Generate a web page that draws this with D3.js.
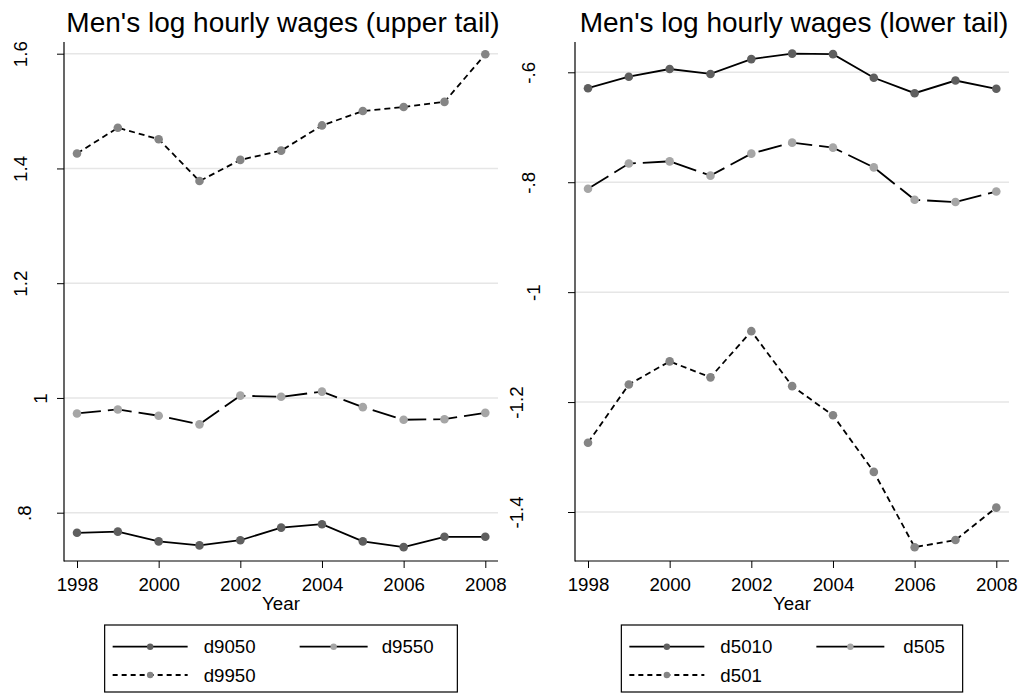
<!DOCTYPE html>
<html>
<head>
<meta charset="utf-8">
<script src="https://cdn.jsdelivr.net/npm/d3@7"></script>
<style>
  body { margin: 0; background: #fff; }
  svg { font-family: "Liberation Sans", Arial, Helvetica, sans-serif; }
</style>
</head>
<body>
<svg id="chart" width="1019" height="693"></svg>
<script>
// Data
let years = [1998, 1999, 2000, 2001, 2002, 2003, 2004, 2005, 2006, 2007, 2008];
let yearTicks = [1998, 2000, 2002, 2004, 2006, 2008];

let d9050 = [0.765, 0.767, 0.750, 0.743, 0.752, 0.774, 0.780, 0.750, 0.740, 0.758, 0.758];
let d9550 = [0.973, 0.980, 0.969, 0.954, 1.004, 1.002, 1.011, 0.984, 0.962, 0.963, 0.974];
let d9950 = [1.426, 1.471, 1.451, 1.378, 1.415, 1.431, 1.475, 1.500, 1.507, 1.516, 1.599];

let d5010 = [-0.629, -0.608, -0.594, -0.603, -0.576, -0.566, -0.567, -0.610, -0.638, -0.615, -0.630];
let d505 = [-0.812, -0.766, -0.762, -0.788, -0.748, -0.728, -0.737, -0.773, -0.832, -0.836, -0.817];
let d501 = [-1.274, -1.168, -1.126, -1.155, -1.071, -1.171, -1.224, -1.327, -1.464, -1.451, -1.392];

let upperTicks = [0.8, 1.0, 1.2, 1.4, 1.6];
let upperTickLabels = ['.8', '1', '1.2', '1.4', '1.6'];
let lowerTicks = [-1.4, -1.2, -1.0, -0.8, -0.6];
let lowerTickLabels = ['-1.4', '-1.2', '-1', '-.8', '-.6'];

// Styles
let darkGray = '#5f5f5f', midGray = '#858585', lightGray = '#a6a6a6';
let longDash = '24,7', shortDash = '6,4';
let labelOffset = { '1.6': 37, '1.4': 37, '1.2': 37, '1': 17, '.8': 33,
                    '-.6': 40, '-.8': 40, '-1': 35, '-1.2': 52, '-1.4': 52 };

let svg = d3.select('#chart');

function drawPanel(cfg) {
  let axisX = cfg.axisX;
  let plotRight = axisX + 434;
  let axisTop = 42, axisBottom = 561;

  let x = d3.scaleLinear().domain([1998, 2008]).range([axisX + 13, axisX + 421.3]);
  let y = d3.scaleLinear().domain(cfg.yDomain).range(cfg.yRange);

  let g = svg.append('g');

  // Title
  g.append('text')
    .attr('x', (axisX + plotRight) / 2 + 2)
    .attr('y', 32)
    .attr('text-anchor', 'middle')
    .style('font-size', '28px')
    .text(cfg.title);

  // Gridlines
  g.selectAll('.grid')
    .data(cfg.ticks)
    .enter()
    .append('line')
    .attr('x1', axisX).attr('x2', plotRight)
    .attr('y1', d => y(d)).attr('y2', d => y(d))
    .attr('stroke', '#e6e6e6')
    .attr('stroke-width', 1.5);

  // Y axis
  let yAxis = g.append('g')
    .attr('transform', 'translate(' + axisX + ',0)')
    .call(d3.axisLeft(y).tickValues(cfg.ticks).tickSize(7).tickSizeOuter(0)
      .tickFormat((d, i) => cfg.tickLabels[i]));
  yAxis.select('.domain').remove();
  yAxis.selectAll('line').attr('stroke', '#000');
  yAxis.selectAll('text')
    .attr('x', null).attr('dy', null)
    .attr('transform', d => {
      let lab = cfg.tickLabels[cfg.ticks.indexOf(d)];
      return 'translate(' + (-labelOffset[lab]) + ',0) rotate(-90)';
    })
    .attr('text-anchor', 'middle')
    .attr('fill', '#000')
    .style('font-size', '18.7px')
    .style('font-family', 'inherit');

  // X axis
  let xAxis = g.append('g')
    .attr('transform', 'translate(0,' + axisBottom + ')')
    .call(d3.axisBottom(x).tickValues(yearTicks).tickSize(7).tickSizeOuter(0)
      .tickFormat(d3.format('d')));
  xAxis.select('.domain').remove();
  xAxis.selectAll('line').attr('stroke', '#000');
  xAxis.selectAll('text')
    .attr('y', 30).attr('dy', null)
    .attr('fill', '#000')
    .style('font-size', '18.7px')
    .style('font-family', 'inherit');

  // Axis lines
  g.append('line')
    .attr('x1', axisX).attr('x2', axisX)
    .attr('y1', axisTop).attr('y2', axisBottom + 0.5)
    .attr('stroke', '#000').attr('stroke-width', 1.2);
  g.append('line')
    .attr('x1', axisX).attr('x2', plotRight)
    .attr('y1', axisBottom).attr('y2', axisBottom)
    .attr('stroke', '#000').attr('stroke-width', 1.2);

  g.append('text')
    .attr('x', (axisX + plotRight) / 2)
    .attr('y', 610)
    .attr('text-anchor', 'middle')
    .style('font-size', '18.7px')
    .text('Year');

  // Series
  let line = d3.line().x(d => x(d[0])).y(d => y(d[1]));
  cfg.series.forEach(s => {
    let pts = years.map((yr, i) => [yr, s.values[i]]);
    g.append('path')
      .datum(pts)
      .attr('d', line)
      .attr('fill', 'none')
      .attr('stroke', '#000')
      .attr('stroke-width', 1.8)
      .attr('stroke-dasharray', s.dash);
  });
  cfg.series.forEach(s => {
    g.selectAll(null)
      .data(years.map((yr, i) => [yr, s.values[i]]))
      .enter()
      .append('circle')
      .attr('cx', d => x(d[0]))
      .attr('cy', d => y(d[1]))
      .attr('r', 4.3)
      .attr('fill', s.color);
  });

  // Legend
  let lw = cfg.legendWidth;
  let lx = (axisX + plotRight) / 2 - lw / 2;
  let leg = g.append('g').attr('transform', 'translate(' + lx + ',625)');
  leg.append('rect')
    .attr('x', 0).attr('y', 0)
    .attr('width', lw).attr('height', 67)
    .attr('fill', 'none')
    .attr('stroke', '#000')
    .attr('stroke-width', 1.2);

  let slots = [
    { x0: 8, x1: 83, tx: 99, cy: 21.7 },
    { x0: 195, x1: 263, tx: cfg.col2Text, cy: 21.7 },
    { x0: 8, x1: 83, tx: 99, cy: 50 }
  ];
  cfg.series.forEach((s, i) => {
    let sl = slots[i];
    leg.append('line')
      .attr('x1', sl.x0).attr('x2', sl.x1)
      .attr('y1', sl.cy).attr('y2', sl.cy)
      .attr('stroke', '#000')
      .attr('stroke-width', 1.8)
      .attr('stroke-dasharray', s.keyDash);
    leg.append('circle')
      .attr('cx', (sl.x0 + sl.x1) / 2)
      .attr('cy', sl.cy)
      .attr('r', 3.2)
      .attr('fill', s.color);
    leg.append('text')
      .attr('x', sl.tx)
      .attr('y', sl.cy + 6.5)
      .style('font-size', '18.7px')
      .text(s.name);
  });
}

drawPanel({
  title: "Men's log hourly wages (upper tail)",
  axisX: 64,
  yDomain: [0.8, 1.6],
  yRange: [512.7, 53.7],
  ticks: upperTicks,
  tickLabels: upperTickLabels,
  legendWidth: 352.7,
  col2Text: 277,
  series: [
    { name: 'd9050', values: d9050, color: darkGray, dash: null, keyDash: null },
    { name: 'd9550', values: d9550, color: lightGray, dash: longDash, keyDash: null },
    { name: 'd9950', values: d9950, color: midGray, dash: shortDash, keyDash: '5,4' }
  ]
});

drawPanel({
  title: "Men's log hourly wages (lower tail)",
  axisX: 575,
  yDomain: [-0.6, -1.4],
  yRange: [72.3, 512],
  ticks: lowerTicks,
  tickLabels: lowerTickLabels,
  legendWidth: 341.3,
  col2Text: 282,
  series: [
    { name: 'd5010', values: d5010, color: darkGray, dash: null, keyDash: null },
    { name: 'd505', values: d505, color: lightGray, dash: longDash, keyDash: null },
    { name: 'd501', values: d501, color: midGray, dash: shortDash, keyDash: '5,4' }
  ]
});
</script>
</body>
</html>
